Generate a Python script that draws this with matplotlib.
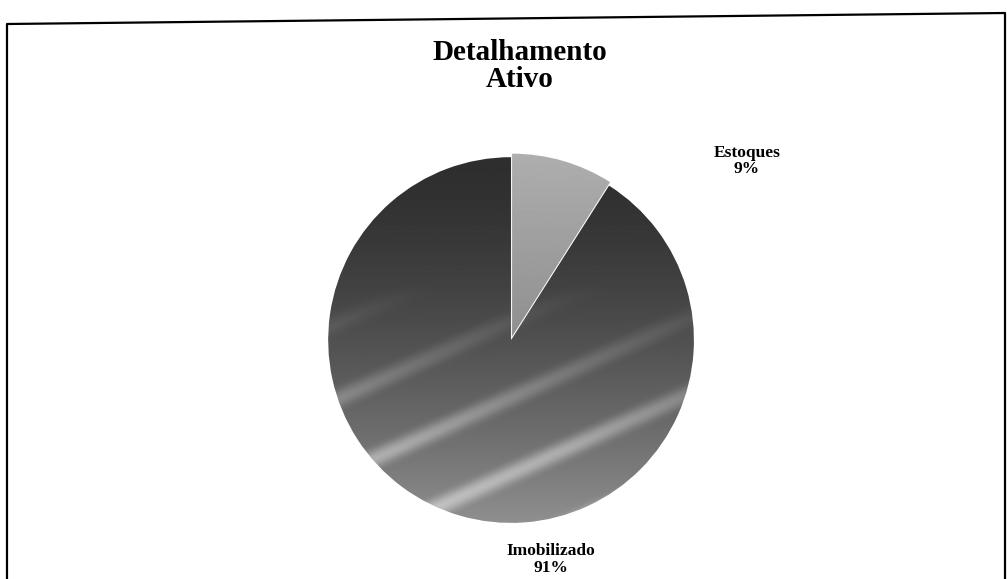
"""
Detalhamento Ativo - pie chart recreated from a scanned report page.
"""

import numpy as np
import matplotlib
matplotlib.use('Agg')
import matplotlib.pyplot as plt
from matplotlib.lines import Line2D

# ── Data ──────────────────────────────────────────────────────────────────────
CATEGORIES = ['Estoques', 'Imobilizado']
SHARES     = [9, 91]          # percent
EXPLODE    = [0.02, 0.0]

TITLE = 'Detalhamento\nAtivo'

# ── Style ─────────────────────────────────────────────────────────────────────
plt.rcParams['font.family'] = ['Liberation Serif', 'DejaVu Serif']

W, H = 1007, 579
fig = plt.figure(figsize=(W / 100, H / 100), dpi=100)

# scanned frame, slightly skewed, runs off the bottom
fx = np.array([7, 7, 1005, 1005]) / W
fy = 1 - np.array([600, 24, 13, 600]) / H
fig.lines.append(Line2D(fx, fy, transform=fig.transFigure,
                        color='black', lw=1.6))

fig.text(0.516, 0.933, TITLE, ha='center', va='top', fontsize=21,
         fontweight='bold', linespacing=1.0)

ax = fig.add_axes([0.2895, 0.0337, 0.436, 0.758])
ax.set_aspect('equal')
ax.axis('off')

labels = [f'{c}\n{v}%' for c, v in zip(CATEGORIES, SHARES)]
wedges, texts = ax.pie(SHARES, labels=labels, explode=EXPLODE,
                       startangle=90, counterclock=False,
                       colors=['#a9a9a9', '#555555'],
                       wedgeprops=dict(edgecolor='white', lw=2.5),
                       textprops=dict(fontsize=12.5, fontweight='bold',
                                      ha='center', va='center'))

# label placement as in the original
texts[0].set_position((1.29, 0.98))
texts[1].set_position((0.22, -1.20))
for t in texts:
    t.set_ha('center')
    t.set_linespacing(1.05)

# shading clipped to each wedge: dark top fading lighter towards the bottom,
# with the soft pale diagonal streaks of the print in the lower half
X, Y = np.meshgrid(np.linspace(-1.1, 1.1, 400), np.linspace(1.1, -1.1, 400))
t = np.clip((1.0 - Y) / 2.0, 0, 1)
band = np.clip(np.sin((Y - 0.45 * X) * 15), 0, 1) ** 3
streak = 0.22 * np.clip((t - 0.35) / 0.45, 0, 1) * band
dark = 0.18 + 0.38 * t ** 1.5 + streak
light = 0.68 - 0.12 * np.clip((1.0 - Y), 0, 1)

img_dark = ax.imshow(dark, cmap='gray', vmin=0, vmax=1,
                     extent=(-1.1, 1.1, -1.1, 1.1), zorder=1.5)
img_dark.set_clip_path(wedges[1])
img_light = ax.imshow(light, cmap='gray', vmin=0, vmax=1,
                      extent=(-1.1, 1.1, -1.1, 1.1), zorder=1.5)
img_light.set_clip_path(wedges[0])

ax.set_xlim(-1.2, 1.2)
ax.set_ylim(-1.2, 1.2)

fig.savefig('out.png', dpi=100, facecolor='white')
